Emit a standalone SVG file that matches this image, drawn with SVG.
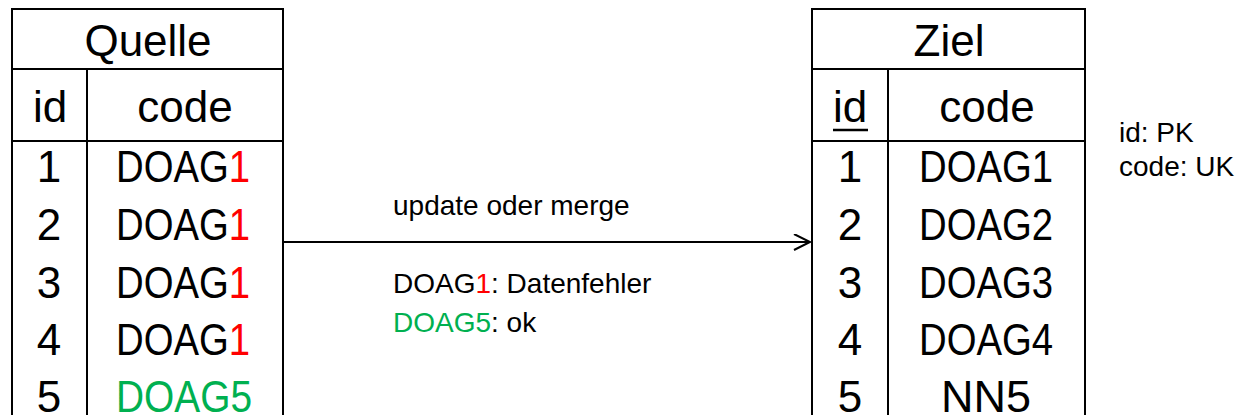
<svg xmlns="http://www.w3.org/2000/svg" width="1238" height="415" viewBox="0 0 1238 415">
<style>
.ln{fill:none;stroke:#000;stroke-width:2}
.t{font-family:"Liberation Sans",Arial,sans-serif;font-size:44px;fill:#000;text-anchor:middle}
.m{font-family:"Liberation Sans",Arial,sans-serif;font-size:28px;fill:#000}
.l{font-family:"Liberation Sans",Arial,sans-serif;font-size:28px;fill:#000}
.r{fill:#FF0000}
.g{fill:#00B050}
</style>
<defs>
<marker id="open" markerWidth="20" markerHeight="20" refX="17" refY="8" orient="auto" markerUnits="userSpaceOnUse">
<path d="M1,0 L17,8 L1,16" fill="none" stroke="#000" stroke-width="2"/>
</marker>
</defs>
<rect width="1238" height="415" fill="#fff"/>
<g id="quelle">
<rect class="ln" x="12" y="9" width="271" height="420"/>
<line class="ln" x1="12" y1="69" x2="283" y2="69"/>
<line class="ln" x1="12" y1="141" x2="283" y2="141"/>
<line class="ln" x1="87" y1="69" x2="87" y2="420"/>
<text class="t" x="148" y="56">Quelle</text>
<text class="t" x="50" y="122">id</text>
<text class="t" x="185" y="122">code</text>
<text class="t" x="49" y="182">1</text>
<text class="t" x="49" y="240">2</text>
<text class="t" x="49" y="298">3</text>
<text class="t" x="49" y="355">4</text>
<text class="t" x="49" y="412">5</text>
<text class="t" x="183" y="182" textLength="134" lengthAdjust="spacingAndGlyphs">DOAG<tspan class="r">1</tspan></text>
<text class="t" x="183" y="240" textLength="134" lengthAdjust="spacingAndGlyphs">DOAG<tspan class="r">1</tspan></text>
<text class="t" x="183" y="298" textLength="134" lengthAdjust="spacingAndGlyphs">DOAG<tspan class="r">1</tspan></text>
<text class="t" x="183" y="355" textLength="134" lengthAdjust="spacingAndGlyphs">DOAG<tspan class="r">1</tspan></text>
<text class="t g" x="184" y="412" textLength="136" lengthAdjust="spacingAndGlyphs">DOAG5</text>
</g>
<g id="ziel">
<rect class="ln" x="812" y="9" width="273" height="420"/>
<line class="ln" x1="812" y1="69" x2="1085" y2="69"/>
<line class="ln" x1="812" y1="141" x2="1085" y2="141"/>
<line class="ln" x1="888" y1="69" x2="888" y2="420"/>
<text class="t" x="949" y="56">Ziel</text>
<text class="t" x="850" y="122">id</text>
<line x1="833" y1="130" x2="868" y2="130" stroke="#000" stroke-width="2.5"/>
<text class="t" x="987" y="122">code</text>
<text class="t" x="850" y="182">1</text>
<text class="t" x="850" y="240">2</text>
<text class="t" x="850" y="298">3</text>
<text class="t" x="850" y="355">4</text>
<text class="t" x="850" y="412">5</text>
<text class="t" x="986" y="182" textLength="134" lengthAdjust="spacingAndGlyphs">DOAG1</text>
<text class="t" x="986" y="240" textLength="134" lengthAdjust="spacingAndGlyphs">DOAG2</text>
<text class="t" x="986" y="298" textLength="134" lengthAdjust="spacingAndGlyphs">DOAG3</text>
<text class="t" x="986" y="355" textLength="134" lengthAdjust="spacingAndGlyphs">DOAG4</text>
<text class="t" x="986" y="412" textLength="90" lengthAdjust="spacingAndGlyphs">NN5</text>
</g>
<g id="connectors">
<line class="ln" x1="283" y1="242" x2="810" y2="242" marker-end="url(#open)"/>
</g>
<g id="labels">
<text class="m" x="393" y="215">update oder merge</text>
<text class="m" x="393" y="293">DOAG<tspan class="r">1</tspan>: Datenfehler</text>
<text class="m" x="393" y="332"><tspan class="g">DOAG5</tspan>: ok</text>
</g>
<g id="legend">
<text class="l" x="1119" y="142">id: PK</text>
<text class="l" x="1119" y="176">code: UK</text>
</g>
</svg>
